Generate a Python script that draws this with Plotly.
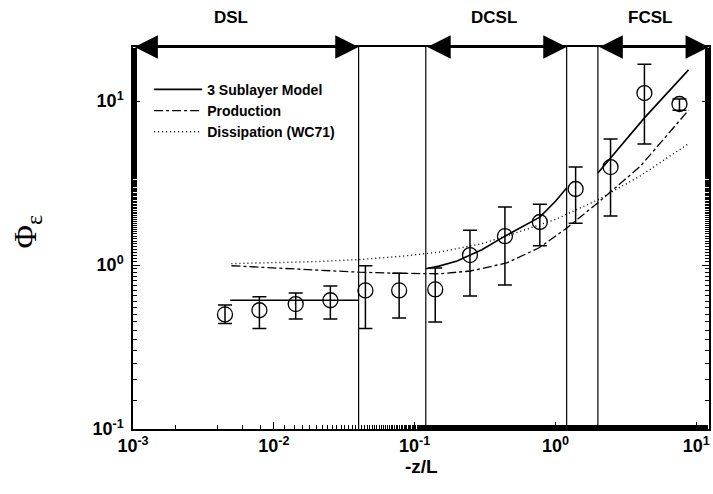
import math
import plotly.graph_objects as go

# ---- data ----
zl = [0.0045, 0.0079, 0.0143, 0.0252, 0.0447, 0.0776, 0.140, 0.247, 0.4375, 0.774, 1.39, 2.46, 4.28, 7.59]
phi = [0.50, 0.53, 0.578, 0.61, 0.70, 0.70, 0.71, 1.15, 1.50, 1.83, 2.91, 3.96, 11.2, 9.6]
phi_hi = [0.57, 0.64, 0.675, 0.745, 0.99, 0.89, 0.96, 1.63, 2.26, 2.35, 3.96, 5.87, 16.8, 10.3]
phi_lo = [0.44, 0.41, 0.469, 0.469, 0.41, 0.475, 0.45, 0.647, 0.755, 1.31, 1.80, 1.99, 5.47, 8.8]

model_dsl_x = [0.0049, 0.040]
model_dsl_y = [0.61, 0.61]
model_dcsl_x = [0.12, 0.149, 0.2, 0.247, 0.3, 0.4375, 0.6, 0.774, 1.0, 1.2]
model_dcsl_y = [0.95, 0.985, 1.06, 1.15, 1.24, 1.50, 1.74, 1.96, 2.45, 2.95]
model_fcsl_x = [2.0, 4.28, 8.8]
model_fcsl_y = [3.64, 7.9, 15.5]

prod_x = [0.005, 0.01, 0.02, 0.04, 0.08, 0.15, 0.25, 0.45, 0.76, 1.2, 2.0, 4.0, 8.8]
prod_y = [0.99, 0.96, 0.93, 0.905, 0.89, 0.885, 0.92, 1.03, 1.27, 1.68, 2.4, 4.0, 8.8]

diss_x = [0.005, 0.01, 0.02, 0.04, 0.08, 0.15, 0.3, 0.5, 1.0, 2.0, 4.0, 8.8]
diss_y = [1.02, 1.03, 1.05, 1.08, 1.13, 1.2, 1.35, 1.55, 1.9, 2.5, 3.5, 5.5]

boundaries = [0.04, 0.12, 1.2, 2.0]
sublayers = ["DSL", "DCSL", "FCSL"]
sublayer_spans = [(0.001, 0.04), (0.12, 1.2), (2.0, 12.3)]
label_pos = [0.005, 0.366, 4.7]

x_tickvals = [0.001, 0.01, 0.1, 1, 10]
x_ticktext = ["10<sup>-3</sup>", "10<sup>-2</sup>", "10<sup>-1</sup>", "10<sup>0</sup>", "10<sup>1</sup>"]
y_tickvals = [0.1, 1, 10]
y_ticktext = ["10<sup>-1</sup>", "10<sup>0</sup>", "10<sup>1</sup>"]

XR = [-3, 1.09]
YR = [-1, 1.33]

fig = go.Figure()

# vertical sublayer boundaries
for b in boundaries:
    fig.add_trace(go.Scatter(x=[b, b], y=[10 ** YR[0], 10 ** YR[1]], mode="lines",
                             line=dict(color="black", width=1.2), showlegend=False,
                             hoverinfo="skip"))

# model
fig.add_trace(go.Scatter(x=model_dsl_x, y=model_dsl_y, mode="lines",
                         line=dict(color="black", width=1.6), name="3 Sublayer Model"))
fig.add_trace(go.Scatter(x=model_dcsl_x, y=model_dcsl_y, mode="lines",
                         line=dict(color="black", width=1.6), showlegend=False))
fig.add_trace(go.Scatter(x=model_fcsl_x, y=model_fcsl_y, mode="lines",
                         line=dict(color="black", width=1.6), showlegend=False))
fig.add_trace(go.Scatter(x=prod_x, y=prod_y, mode="lines", name="Production",
                         line=dict(color="black", width=1.3, dash="dashdot")))
fig.add_trace(go.Scatter(x=diss_x, y=diss_y, mode="lines", name="Dissipation (WC71)",
                         line=dict(color="black", width=1.4, dash="1px,3px")))

# observations
fig.add_trace(go.Scatter(
    x=zl, y=phi, mode="markers", showlegend=False,
    marker=dict(symbol="circle-open", size=15, color="black", line=dict(width=1.3)),
    error_y=dict(type="data", symmetric=False,
                 array=[h - p for h, p in zip(phi_hi, phi)],
                 arrayminus=[p - l for p, l in zip(phi, phi_lo)],
                 color="black", thickness=1.5, width=7)))

ann = []
for (a, b), name, lp in zip(sublayer_spans, sublayers, label_pos):
    ann.append(dict(x=math.log10(b), y=1, xref="x", yref="paper",
                    ax=math.log10(a), ay=0, axref="x", ayref="pixel",
                    text="", showarrow=True, arrowside="end+start",
                    arrowhead=2, arrowsize=2.6, arrowwidth=1.8, arrowcolor="black",
                    standoff=0, startstandoff=0))
    ann.append(dict(x=math.log10(lp), y=1.076, xref="x", yref="paper", text=name,
                    showarrow=False, font=dict(family="Liberation Sans", size=17,
                                               color="black", weight="bold"),
                    xanchor="center", yanchor="middle"))

ann.append(dict(x=0.5, y=-0.097, xref="paper", yref="paper", text="-z/L",
                showarrow=False, font=dict(family="Liberation Sans", size=19,
                                           color="black", weight="bold"),
                xanchor="center", yanchor="middle"))
ann.append(dict(x=-0.183, y=0.516, xref="paper", yref="paper",
                text="Φ<sub><span style='font-size:24px'>ε</span></sub>",
                showarrow=False, textangle=-90,
                font=dict(family="Liberation Serif", size=32, color="black"),
                xanchor="center", yanchor="middle"))

tickfont = dict(family="Liberation Sans", size=18, color="black", weight="bold")
fig.update_layout(
    width=713, height=494,
    margin=dict(l=133, r=2, t=47, b=65),
    plot_bgcolor="white", paper_bgcolor="white",
    showlegend=True,
    legend=dict(x=0.028, y=0.93, xanchor="left", yanchor="top", tracegroupgap=0,
                itemwidth=48, bgcolor="rgba(0,0,0,0)",
                font=dict(family="Liberation Sans", size=14, color="black", weight="bold")),
    annotations=ann,
    xaxis=dict(type="log", range=XR, tickvals=x_tickvals, ticktext=x_ticktext,
               showgrid=False, zeroline=False, showline=True, linecolor="black",
               linewidth=1.5, mirror=True, ticks="inside", ticklen=7, tickcolor="black",
               tickfont=tickfont,
               minor=dict(ticks="inside", ticklen=4, tickcolor="black", showgrid=False)),
    yaxis=dict(type="log", range=YR, tickvals=y_tickvals, ticktext=y_ticktext,
               showgrid=False, zeroline=False, showline=True, linecolor="black",
               linewidth=1.5, mirror="ticks", ticks="inside", ticklen=7, tickcolor="black",
               tickfont=tickfont, ticklabelstandoff=4,
               minor=dict(ticks="inside", ticklen=4, tickcolor="black", showgrid=False)),
)

fig.write_html("out.html")
